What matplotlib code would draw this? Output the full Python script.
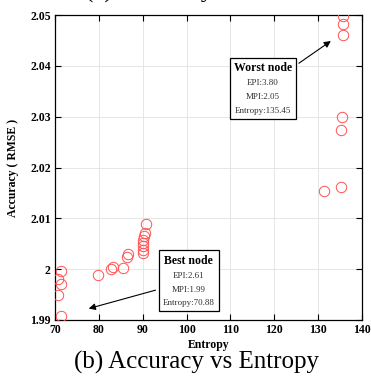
import matplotlib.pyplot as plt
from matplotlib.offsetbox import TextArea, VPacker, AnnotationBbox

plt.rcParams["font.family"] = ["Liberation Serif", "DejaVu Serif"]

# Entropy / RMSE of each node
entropy = [135.6, 135.6, 135.6, 135.4, 135.3, 131.3, 135.3,
           90.7, 90.5, 90.4, 90.1, 90.0, 90.0, 90.0, 90.0,
           86.6, 86.5, 85.6, 83.3, 82.7, 79.9,
           71.4, 70.8, 71.3, 70.8, 71.3]
rmse = [2.0498, 2.0482, 2.0461, 2.0300, 2.0274, 2.0154, 2.0161,
        2.0089, 2.0071, 2.0065, 2.0057, 2.0051, 2.0045, 2.0037, 2.0032,
        2.0030, 2.0023, 2.0003, 2.0005, 2.0001, 1.9989,
        1.9997, 1.9981, 1.9970, 1.9949, 1.9908]

xticks = [70, 80, 90, 100, 110, 120, 130, 140]
yticks = [1.99, 2.0, 2.01, 2.02, 2.03, 2.04, 2.05]
ytick_labels = ["1.99", "2", "2.01", "2.02", "2.03", "2.04", "2.05"]

worst = ["Worst node", "EPI:3.80", "MPI:2.05", "Entropy:135.45"]
best = ["Best node", "EPI:2.61", "MPI:1.99", "Entropy:70.88"]

fig = plt.figure(figsize=(3.71, 3.76), dpi=100)
ax = fig.add_axes([0.148, 0.149, 0.828, 0.811])

ax.plot(entropy, rmse, "o", ls="none", mfc="none", mec="#ff5252",
        ms=7.5, mew=0.7, zorder=3)

ax.set_xlim(70, 140)
ax.set_ylim(1.99, 2.05)
ax.set_xticks(xticks)
ax.set_yticks(yticks)
ax.set_yticklabels(ytick_labels)
ax.grid(color="#e2e2e2", lw=0.6)
ax.set_axisbelow(True)
ax.tick_params(direction="in", top=True, right=True, length=4, width=0.8,
               labelsize=8.5, pad=3)
for lab in ax.get_xticklabels() + ax.get_yticklabels():
    lab.set_fontweight("bold")
for sp in ax.spines.values():
    sp.set_linewidth(0.9)

ax.set_xlabel("Entropy", fontsize=8.5, fontweight="bold", labelpad=2)
ax.set_ylabel("Accuracy ( RMSE )", fontsize=8.5, fontweight="bold",
              labelpad=8)


def node_box(lines, tip, center):
    items = [TextArea(lines[0], textprops=dict(fontsize=8.5, fontweight="bold"))]
    for s in lines[1:]:
        items.append(TextArea(s, textprops=dict(fontsize=6.5, color="#333333")))
    pack = VPacker(children=items, align="center", pad=0, sep=4)
    ab = AnnotationBbox(pack, tip, xybox=center, xycoords="data",
                        boxcoords="data", frameon=True, pad=0.3,
                        bboxprops=dict(edgecolor="black", lw=0.9),
                        arrowprops=dict(arrowstyle="-|>", color="black",
                                        lw=0.8, mutation_scale=7))
    ax.add_artist(ab)


node_box(worst, (133.4, 2.0452), (117.4, 2.0356))
node_box(best, (77.1, 1.9921), (100.5, 1.99767))

fig.text(0.53, 0.005, "(b) Accuracy vs Entropy", fontsize=18, ha="center",
         va="bottom")
fig.text(0.50, 1.006, "(a) Accuracy vs EPI", fontsize=18, ha="center",
         va="baseline")

fig.savefig("out.png", dpi=100)
